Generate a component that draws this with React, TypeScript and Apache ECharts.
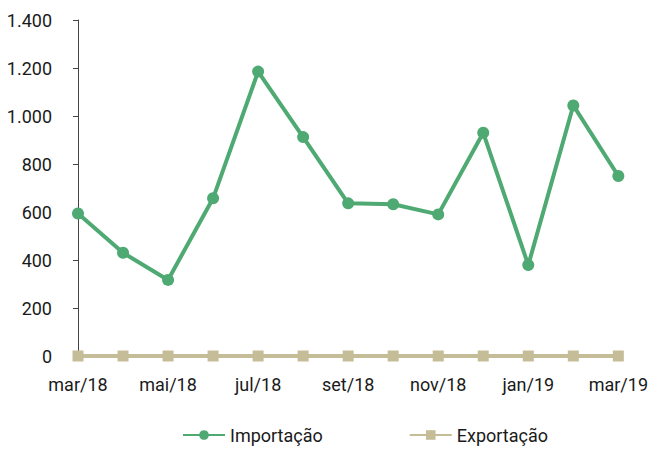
import React, { useEffect, useRef } from "react";
import * as echarts from "echarts";

const categories = ["mar/18", "abr/18", "mai/18", "jun/18", "jul/18", "ago/18", "set/18", "out/18", "nov/18", "dez/18", "jan/19", "fev/19", "mar/19"];
const importacao = [594, 430, 317, 657, 1185, 912, 636, 632, 590, 930, 379, 1044, 750];
const exportacao = [0, 0, 0, 0, 0, 0, 0, 0, 0, 0, 0, 0, 0];
const seriesNames = ["Importação", "Exportação"];

const FONT = "Roboto, sans-serif";

const fmt = (v: number) => String(v).replace(/\B(?=(\d{3})+(?!\d))/g, ".");

export default function App() {
  const ref = useRef<HTMLDivElement>(null);
  useEffect(() => {
    if (!ref.current) return;
    const chart = echarts.init(ref.current, undefined, { renderer: "svg" });
    chart.setOption({
      animation: false,
      textStyle: { fontFamily: FONT },
      grid: { left: 78, right: 30, top: 20, bottom: 97, containLabel: false },
      legend: {
        bottom: 4,
        left: 177,
        itemWidth: 42,
        itemHeight: 12,
        itemGap: 86,
        textStyle: { fontFamily: FONT, fontSize: 18, color: "#1a1a1a" },
        data: seriesNames,
      },
      xAxis: {
        type: "category",
        data: categories,
        boundaryGap: false,
        axisLine: { lineStyle: { color: "#444", width: 1 } },
        axisTick: { show: true, interval: 1, length: 5, lineStyle: { color: "#444" } },
        axisLabel: { interval: 1, margin: 19, fontSize: 18, color: "#1a1a1a", fontFamily: FONT },
      },
      yAxis: {
        type: "value",
        min: 0,
        max: 1400,
        interval: 200,
        splitLine: { show: false },
        axisLine: { show: true, lineStyle: { color: "#444", width: 1 } },
        axisTick: { show: true, length: 5, lineStyle: { color: "#444" } },
        axisLabel: { margin: 26, fontSize: 18, color: "#1a1a1a", fontFamily: FONT, formatter: (v: number) => fmt(v) },
      },
      series: [
        {
          name: seriesNames[0],
          type: "line",
          data: importacao,
          symbol: "circle",
          symbolSize: 12,
          lineStyle: { color: "#4EA972", width: 4 },
          itemStyle: { color: "#4EA972" },
          z: 3,
        },
        {
          name: seriesNames[1],
          type: "line",
          data: exportacao,
          symbol: "rect",
          symbolSize: 11,
          lineStyle: { color: "#C4BD97", width: 4 },
          itemStyle: { color: "#C4BD97" },
          z: 2,
        },
      ],
    });
    return () => chart.dispose();
  }, []);
  return <div ref={ref} style={{ width: 651, height: 453, position: "absolute", left: 0, top: 0 }} />;
}
